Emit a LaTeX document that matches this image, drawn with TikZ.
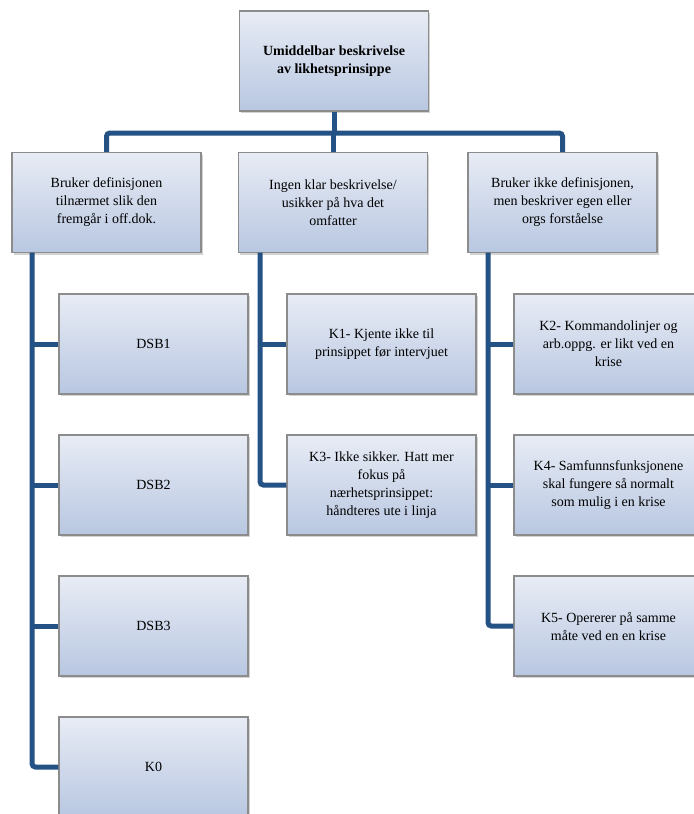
\documentclass[tikz,border=0pt]{standalone}
\usepackage{fontspec}
\setmainfont{Liberation Serif}
\usetikzlibrary{shadows}
\definecolor{linkBlue}{RGB}{36,82,132}
\definecolor{boxTop}{RGB}{232,236,245}
\definecolor{boxBottom}{RGB}{184,199,225}
\definecolor{boxLine}{RGB}{140,140,140}

\begin{document}
\begin{tikzpicture}
[x=0.75pt,y=-0.75pt,
  lineDecorate/.style={-,line width=3.75pt,draw=linkBlue,rounded corners=2.5pt},%
  boxDecorate/.style={shape=rectangle,draw=boxLine,line width=0.8pt,
    top color=boxTop,bottom color=boxBottom,
    minimum width=141.75pt,minimum height=75pt,inner sep=2pt,align=center,
    font=\fontsize{10.5}{13.5}\selectfont,
    drop shadow={shadow xshift=1.2pt,shadow yshift=-1.8pt,opacity=0.35}}]
\useasboundingbox (0,0) rectangle (693,814);
%% nodes or boxes
\node (top) at (334,61) [boxDecorate,font=\fontsize{10.5}{13.5}\selectfont\bfseries]
  {Umiddelbar beskrivelse\\av likhetsprinsippe};
\foreach \nodename/\x/\txt in {
  lvlL/106.5/{Bruker definisjonen\\tilnærmet slik den\\fremgår i off.dok.},
  lvlM/333/{Ingen klar beskrivelse/\\usikker på hva det\\omfatter},
  lvlR/562.5/{Bruker ikke definisjonen,\\men beskriver egen eller\\orgs forståelse}}
{
  \node (\nodename) at (\x,202.5) [boxDecorate] {\txt};
}
\foreach \nodename/\x/\y/\txt in {
  dsb1/153.5/344/{DSB1},
  dsb2/153.5/485/{DSB2},
  dsb3/153.5/626/{DSB3},
  k0/153.5/767/{K0},
  k1/381.5/344/{K1- Kjente ikke til\\prinsippet før intervjuet},
  k3/381.5/485/{K3- Ikke sikker. Hatt mer\\fokus på\\nærhetsprinsippet:\\håndteres ute i linja},
  k2/608.5/344/{K2- Kommandolinjer og\\arb.oppg. er likt ved en\\krise},
  k4/608.5/485/{K4- Samfunnsfunksjonene\\skal fungere så normalt\\som mulig i en krise},
  k5/608.5/626/{K5- Opererer på samme\\måte ved en en krise}}
{
  \node (\nodename) at (\x,\y) [boxDecorate] {\txt};
}
%% connectors
\coordinate (bar) at (334,133);
\coordinate (sL) at (32,252.5);
\coordinate (sM) at (260,252.5);
\coordinate (sR) at (488,252.5);
\draw[lineDecorate] (top) -- (top |- bar);
\draw[lineDecorate] (lvlL) |- (bar) -| (lvlR);
\draw[lineDecorate] (lvlM.north) -- (lvlM.north |- bar);
\foreach \spine/\last in {sL/k0, sM/k3, sR/k5}
{
  \draw[lineDecorate] (\spine) |- (\last);
}
\foreach \spine/\child in {sL/dsb1, sL/dsb2, sL/dsb3, sM/k1, sR/k2, sR/k4}
{
  \draw[lineDecorate] (\spine |- \child) -- (\child);
}
\end{tikzpicture}
\end{document}
